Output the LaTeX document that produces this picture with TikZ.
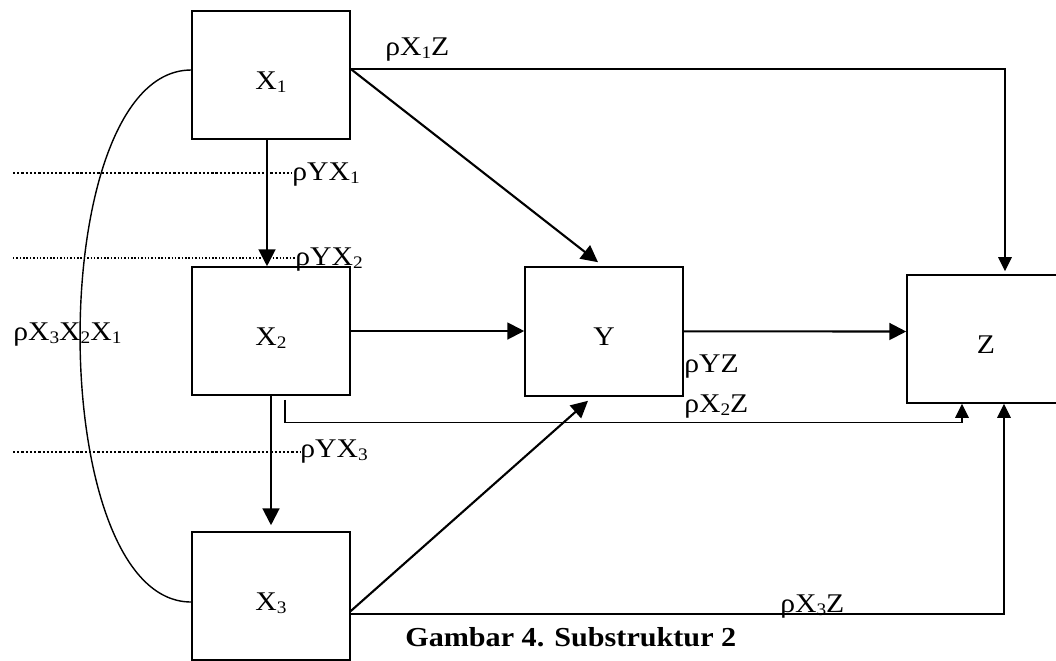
\documentclass[tikz,border=0pt]{standalone}
\usepackage{fontspec}
\setmainfont{Liberation Serif}[FakeStretch=1.1]
\usetikzlibrary{arrows.meta, positioning, calc}
\newcommand{\subidx}[1]{\raisebox{-2.2pt}{\fontsize{12.5}{13}\selectfont #1}}
\tikzset{
  varbox/.style={rectangle, draw, line width=1.1pt, minimum width=3.95cm, minimum height=3.2cm, inner sep=0pt, text height=22pt, text depth=2pt, font=\fontsize{19.2}{21}\selectfont},
  pathlabel/.style={anchor=base west, inner sep=0pt, font=\fontsize{19.2}{21}\selectfont},
  mainarrow/.style={line width=1.5pt, -{Triangle[length=4.2mm, width=4.2mm]}},
  sidearrow/.style={line width=0.9pt, -{Triangle[length=3.5mm, width=3.4mm]}},
  dotguide/.style={line width=#1, dash pattern=on #1 off 1.4pt},
}

\begin{document}
\begin{tikzpicture}[x=0.025cm, y=-0.025cm]
\useasboundingbox (0,0) rectangle (1056,660);
\node[varbox] (X1) at (271,75) {X\subidx{1}};
\node[varbox] (X2) at (271,331) {X\subidx{2}};
\node[varbox] (X3) at (271,596) {X\subidx{3}};
\node[varbox, minimum height=3.225cm] (Y) at (604,331.5) {Y};
\node[varbox] (Z) at (986,339) {Z};

\node[pathlabel] (ryx1) at (292,180) {ρYX\subidx{1}};
\node[pathlabel] (ryx2) at (295,265) {ρYX\subidx{2}};
\node[pathlabel] (ryx3) at (300,457) {ρYX\subidx{3}};
\node[pathlabel] (rx1z) at (385,55) {ρX\subidx{1}Z};
\node[pathlabel] (rx3x2x1) at (13,340) {ρX\subidx{3}X\subidx{2}X\subidx{1}};
\node[pathlabel] (ryz) at (684,372) {ρYZ};
\node[pathlabel] (rx2z) at (684,412) {ρX\subidx{2}Z};
\node[pathlabel] (rx3z) at (780,612) {ρX\subidx{3}Z};
\node[pathlabel, font=\fontsize{19.5}{21}\selectfont\bfseries] (caption) at (405,646) {Gambar 4. Substruktur 2};

\coordinate (g1) at (13,173);
\coordinate (g2) at (13,258);
\coordinate (g3) at (13,452);
\draw[dotguide=1.6pt] (g1) -- (g1 -| ryx1.west);
\draw[dotguide=1pt] (g2) -- (g2 -| ryx2.west);
\draw[dotguide=1.6pt] (g3) -- (g3 -| ryx3.west);

\draw[line width=1pt] ([yshift=1.25mm]X1.west) .. controls (43,70) and (43,602) .. ([yshift=-1.5mm]X3.west);

\draw[mainarrow] ([xshift=-1mm]X1.south) -- ([xshift=-1mm]X2.north);
\draw[mainarrow] (X2.south) -- ([yshift=1.5mm]X3.north);
\draw[mainarrow] (X2.east) -- (Y.west |- X2.east);
\draw[mainarrow] ([yshift=1.5mm]X1.east) -- ([xshift=-1.5mm, yshift=1mm]Y.north);
\draw[mainarrow] ([yshift=-3.75mm]X3.east) -- ([xshift=-4mm, yshift=-1mm]Y.south);
\draw[mainarrow] ([yshift=0.05mm]Y.east) -- (Y.east -| Z.west);

\draw[sidearrow] ([yshift=1.5mm]X1.east) -| ([xshift=4.75mm, yshift=0.75mm]Z.north);
\draw[sidearrow] ([xshift=3.5mm, yshift=-1mm]X2.south) |- ([xshift=-6mm, yshift=-4.75mm]Z.south) -- ([xshift=-6mm]Z.south);
\draw[sidearrow] ([yshift=-4.5mm]X3.east) -| ([xshift=4.5mm]Z.south);
\end{tikzpicture}
\end{document}
